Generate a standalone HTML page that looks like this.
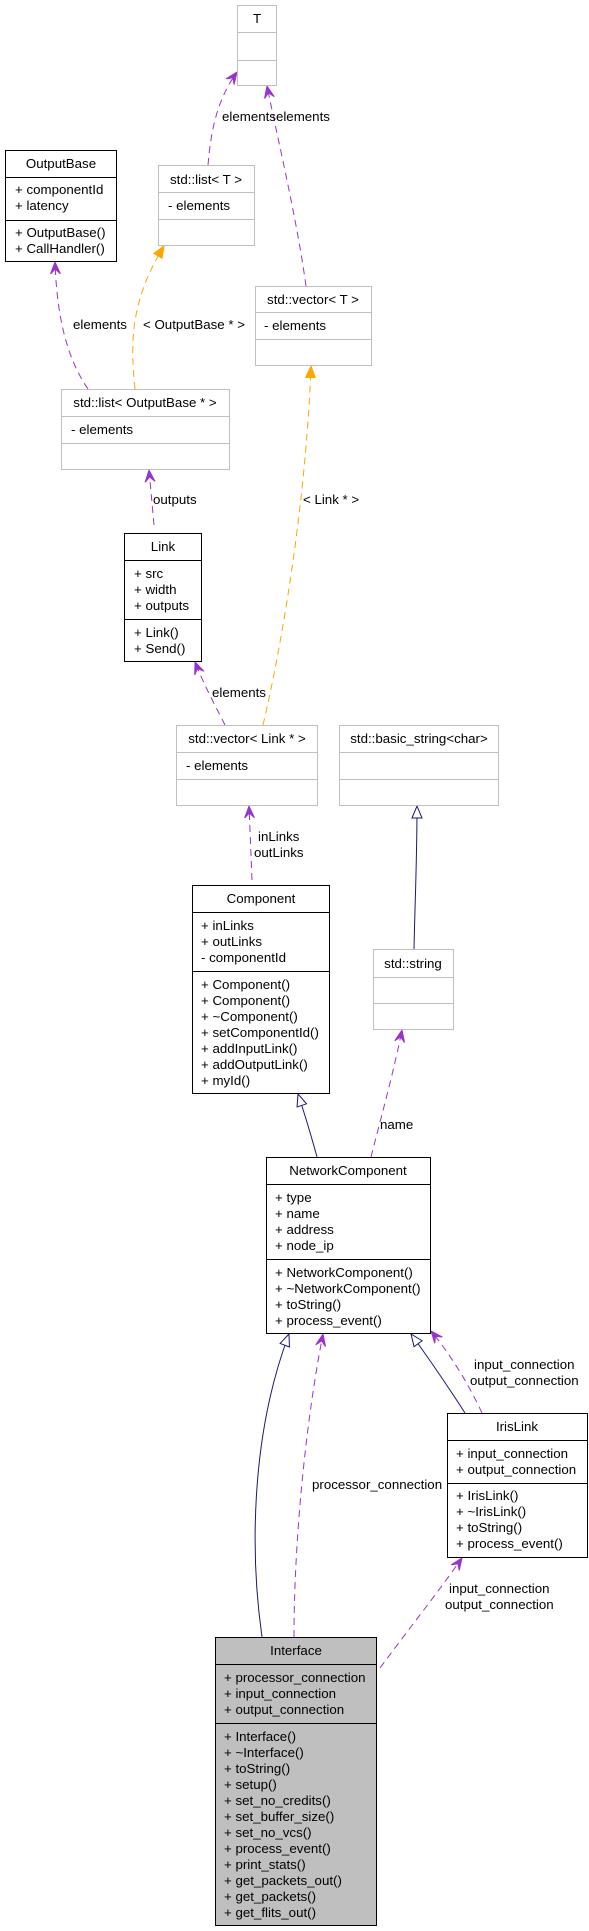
<!DOCTYPE html>
<html><head><meta charset="utf-8"><style>
body{margin:0;background:#fff}
svg{display:block}
text{font-family:"Liberation Sans",sans-serif;font-size:13.3px;fill:#000}
</style></head><body>
<svg width="589" height="1931" viewBox="0 0 589 1931" xmlns="http://www.w3.org/2000/svg">
<defs>
<marker id="vee" markerUnits="userSpaceOnUse" markerWidth="14" markerHeight="12" refX="12" refY="6" orient="auto">
<path d="M0,1 L12,6 L0,11 L5,6 z" fill="#9a32cd" stroke="#9a32cd" stroke-width="1"/>
</marker>
<marker id="orng" markerUnits="userSpaceOnUse" markerWidth="14" markerHeight="12" refX="12" refY="6" orient="auto">
<path d="M0,1 L12,6 L0,11 z" fill="#ffa500" stroke="#ffa500"/>
</marker>
<marker id="tri" markerUnits="userSpaceOnUse" markerWidth="16" markerHeight="12" refX="13" refY="6" orient="auto">
<path d="M1,1 L13,6 L1,11 z" fill="#fff" stroke="#191970" stroke-width="1"/>
</marker>
</defs>

<g fill="none" stroke-width="1">
<g stroke="#9a32cd" stroke-dasharray="7,5">
<path d="M208,165 C211,130 217,100 237,72" marker-end="url(#vee)"/>
<path d="M306,286 C297,220 278,140 267,86" marker-end="url(#vee)"/>
<path d="M88,389 C68,360 57,320 55,262" marker-end="url(#vee)"/>
<path d="M154,525 L149,470" marker-end="url(#vee)"/>
<path d="M225,725 C215,705 204,685 195,662" marker-end="url(#vee)"/>
<path d="M252,880 L249,806" marker-end="url(#vee)"/>
<path d="M371,1157 C383,1110 394,1070 402,1030" marker-end="url(#vee)"/>
<path d="M294,1637 C294,1540 306,1420 323,1334" marker-end="url(#vee)"/>
<path d="M482,1413 C469,1385 451,1355 431,1331" marker-end="url(#vee)"/>
<path d="M380,1668 C408,1630 436,1595 462,1558" marker-end="url(#vee)"/>
</g>
<g stroke="#ffa500" stroke-dasharray="7,5">
<path d="M135,389 C130,340 131,300 164,246" marker-end="url(#orng)"/>
<path d="M263,725 C283,640 306,500 311,366" marker-end="url(#orng)"/>
</g>
<g stroke="#191970">
<path d="M414,949 C415,900 417,860 417,806" marker-end="url(#tri)"/>
<path d="M317,1157 C311,1135 305,1115 298,1094" marker-end="url(#tri)"/>
<path d="M262,1637 C251,1560 249,1440 289,1334" marker-end="url(#tri)"/>
<path d="M465,1413 C447,1385 430,1360 411,1334" marker-end="url(#tri)"/>
</g>
</g>

<text x="222" y="121">elementselements</text>
<text x="73" y="329">elements</text>
<text x="143" y="329">&lt; OutputBase * &gt;</text>
<text x="153" y="504">outputs</text>
<text x="303" y="504">&lt; Link * &gt;</text>
<text x="212" y="697">elements</text>
<text x="258" y="841">inLinks</text>
<text x="254" y="857">outLinks</text>
<text x="380" y="1129">name</text>
<text x="312" y="1489">processor_connection</text>
<text x="474" y="1369">input_connection</text>
<text x="470" y="1385">output_connection</text>
<text x="449" y="1593">input_connection</text>
<text x="445" y="1609">output_connection</text>

<g stroke="#bfbfbf" fill="#fff">
<rect x="237.5" y="5.5" width="39" height="80"/><path d="M237,32.5H277M237,60.5H277"/>
<rect x="158.5" y="165.5" width="96" height="80"/><path d="M158,192.5H255M158,219.5H255"/>
<rect x="255.5" y="286.5" width="116" height="79"/><path d="M255,312.5H372M255,339.5H372"/>
<rect x="61.5" y="389.5" width="168" height="80"/><path d="M61,416.5H230M61,443.5H230"/>
<rect x="176.5" y="725.5" width="141" height="80"/><path d="M176,752.5H318M176,779.5H318"/>
<rect x="339.5" y="725.5" width="159" height="80"/><path d="M339,752.5H499M339,779.5H499"/>
<rect x="373.5" y="949.5" width="80" height="80"/><path d="M373,977.5H454M373,1003.5H454"/>
</g>
<g stroke="#000" fill="#fff">
<rect x="5.5" y="150.5" width="111" height="111"/><path d="M5,177.5H117M5,220.5H117"/>
<rect x="124.5" y="533.5" width="77" height="128"/><path d="M124,560.5H202M124,619.5H202"/>
<rect x="192.5" y="885.5" width="137" height="208"/><path d="M192,912.5H330M192,971.5H330"/>
<rect x="266.5" y="1157.5" width="164" height="176"/><path d="M266,1184.5H431M266,1259.5H431"/>
<rect x="447.5" y="1413.5" width="140" height="144"/><path d="M447,1440.5H588M447,1483.5H588"/>
<rect x="215.5" y="1637.5" width="161" height="288" fill="#bfbfbf"/><path d="M215,1664.5H377M215,1723.5H377"/>
</g>

<g text-anchor="middle">
<text x="257" y="23">T</text>
<text x="206" y="184">std::list&lt; T &gt;</text>
<text x="313" y="304">std::vector&lt; T &gt;</text>
<text x="145" y="407">std::list&lt; OutputBase * &gt;</text>
<text x="61" y="168">OutputBase</text>
<text x="163" y="551">Link</text>
<text x="247" y="743">std::vector&lt; Link * &gt;</text>
<text x="419" y="743">std::basic_string&lt;char&gt;</text>
<text x="261" y="903">Component</text>
<text x="413" y="968">std::string</text>
<text x="348" y="1175">NetworkComponent</text>
<text x="517" y="1431">IrisLink</text>
<text x="296" y="1655">Interface</text>
</g>
<text x="168" y="210">- elements</text>
<text x="264" y="330">- elements</text>
<text x="71" y="434">- elements</text>
<text x="186" y="770">- elements</text>

<text x="15" y="194">+ componentId</text>
<text x="15" y="210">+ latency</text>
<text x="15" y="237">+ OutputBase()</text>
<text x="15" y="253">+ CallHandler()</text>

<text x="134" y="578">+ src</text>
<text x="134" y="594">+ width</text>
<text x="134" y="610">+ outputs</text>
<text x="134" y="637">+ Link()</text>
<text x="134" y="653">+ Send()</text>

<text x="201" y="930">+ inLinks</text>
<text x="201" y="946">+ outLinks</text>
<text x="201" y="962">- componentId</text>
<text x="201" y="989">+ Component()</text>
<text x="201" y="1005">+ Component()</text>
<text x="201" y="1021">+ ~Component()</text>
<text x="201" y="1037">+ setComponentId()</text>
<text x="201" y="1053">+ addInputLink()</text>
<text x="201" y="1069">+ addOutputLink()</text>
<text x="201" y="1085">+ myId()</text>

<text x="275" y="1202">+ type</text>
<text x="275" y="1218">+ name</text>
<text x="275" y="1234">+ address</text>
<text x="275" y="1250">+ node_ip</text>
<text x="275" y="1277">+ NetworkComponent()</text>
<text x="275" y="1293">+ ~NetworkComponent()</text>
<text x="275" y="1309">+ toString()</text>
<text x="275" y="1325">+ process_event()</text>

<text x="456" y="1458">+ input_connection</text>
<text x="456" y="1474">+ output_connection</text>
<text x="456" y="1500">+ IrisLink()</text>
<text x="456" y="1516">+ ~IrisLink()</text>
<text x="456" y="1532">+ toString()</text>
<text x="456" y="1548">+ process_event()</text>

<text x="224" y="1682">+ processor_connection</text>
<text x="224" y="1698">+ input_connection</text>
<text x="224" y="1714">+ output_connection</text>
<text x="224" y="1741">+ Interface()</text>
<text x="224" y="1757">+ ~Interface()</text>
<text x="224" y="1773">+ toString()</text>
<text x="224" y="1789">+ setup()</text>
<text x="224" y="1805">+ set_no_credits()</text>
<text x="224" y="1821">+ set_buffer_size()</text>
<text x="224" y="1837">+ set_no_vcs()</text>
<text x="224" y="1853">+ process_event()</text>
<text x="224" y="1869">+ print_stats()</text>
<text x="224" y="1885">+ get_packets_out()</text>
<text x="224" y="1901">+ get_packets()</text>
<text x="224" y="1917">+ get_flits_out()</text>
</svg>
</body></html>
